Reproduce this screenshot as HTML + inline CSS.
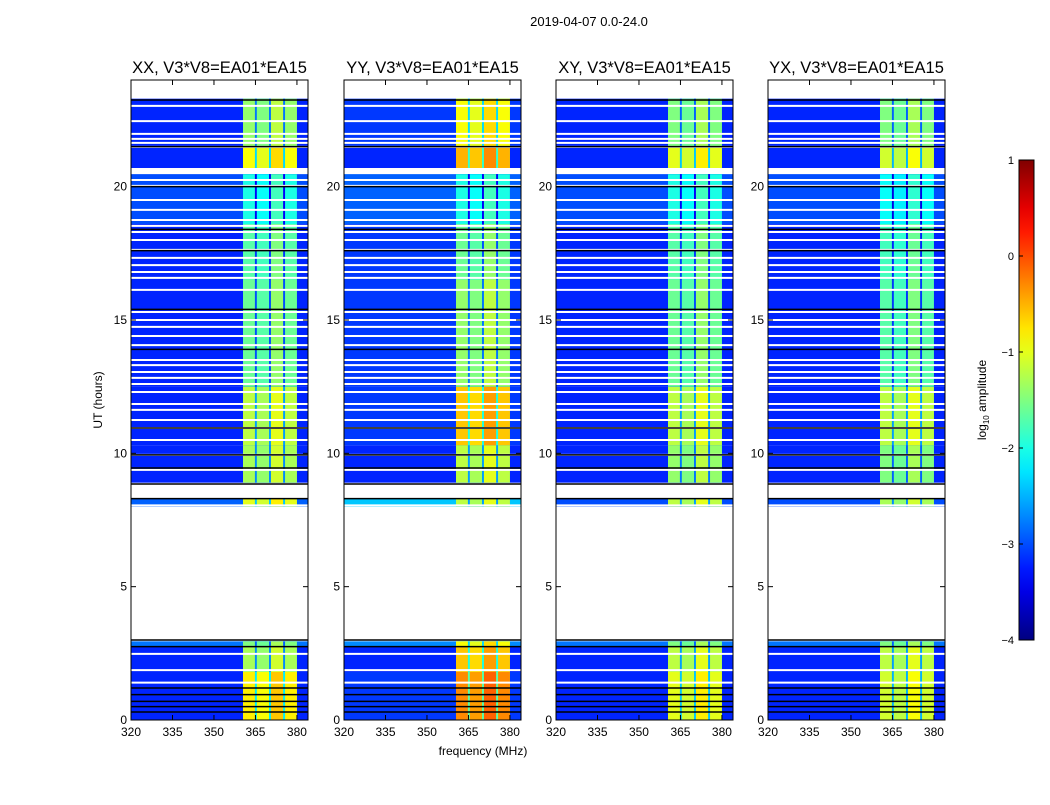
<!DOCTYPE html>
<html><head><meta charset="utf-8"><style>
body{margin:0;background:#fff;}
svg text{font-family:"Liberation Sans",sans-serif;}
</style></head><body>
<svg id="fig" width="1050" height="800" xmlns="http://www.w3.org/2000/svg">
<text x="589" y="26" font-size="13" text-anchor="middle">2019-04-07 0.0-24.0</text>
</svg>
<script>
// ---- data ----
const panelTitles = ["XX, V3*V8=EA01*EA15","YY, V3*V8=EA01*EA15","XY, V3*V8=EA01*EA15","YX, V3*V8=EA01*EA15"];
const xTicks = [320,335,350,365,380];
const yTicks = [0,5,10,15,20];
const cbTicks = [1,0,-1,-2,-3,-4];
const blockStart = [0.0,1.8,2.75,8.0,8.9,10.3,12.5,16.5,18.6,20.7,21.5];
const blockEnd   = [1.8,2.75,2.95,8.3,10.3,12.5,16.5,18.6,20.47,21.5,23.3];
const bandXX = [-0.8,-1.3,-1.5,-1.0,-1.3,-1.2,-1.6,-1.7,-2.0,-0.9,-1.4];
const bandYY = [-0.3,-0.6,-0.9,-1.2,-1.2,-0.6,-1.4,-1.6,-2.0,-0.5,-0.9];
const bandXY = [-1.0,-1.2,-1.5,-1.2,-1.4,-1.2,-1.6,-1.7,-2.0,-1.0,-1.5];
const bandYX = [-1.1,-1.2,-1.5,-1.3,-1.5,-1.2,-1.7,-1.8,-2.1,-1.1,-1.5];
const bgXX = [-3.2,-3.2,-2.8,-2.9,-3.2,-3.2,-3.2,-3.2,-3.0,-3.2,-3.2];
const bgYY = [-3.1,-3.2,-2.7,-2.4,-3.2,-3.1,-3.1,-3.1,-2.9,-3.2,-3.1];
const bgXY = [-3.2,-3.2,-2.8,-3.0,-3.2,-3.2,-3.2,-3.2,-3.0,-3.2,-3.2];
const bgYX = [-3.2,-3.2,-2.8,-3.0,-3.2,-3.2,-3.2,-3.2,-3.0,-3.2,-3.2];
const subbandStart = [360.5,365.5,370.6,375.7];
const subbandEnd   = [364.8,369.9,375.0,380.0];
const subbandOffset = [0.0,-0.1,0.2,0.0];
const whiteLines = [23.03,22.46,21.98,21.79,21.64,21.49,20.25,20.03,19.5,19.13,18.75,18.53,18.3,18.0,17.63,17.33,17.06,16.8,16.58,16.13,15.3,15.0,14.74,14.4,14.06,13.5,13.31,13.05,12.83,12.6,12.3,11.85,11.63,11.25,10.95,10.5,9.94,9.38,8.05,2.48,1.87,1.4];
const blackLines = [23.25,21.5,20.0,18.4,17.6,15.4,13.9,10.95,9.94,9.45,8.85,8.3,3.0,2.75,1.2,0.95,0.7,0.5,0.3];
// ---- layout ----
const panelX=[131,344,556,768], PW=177, PT=80, PB=720;
const fMin=320,fMax=384,tMin=0,tMax=24;
const NS="http://www.w3.org/2000/svg";
const svg=document.getElementById('fig');
function jet(v){let x=Math.max(0,Math.min(1,(v+4)/5));
 const c=t=>Math.round(255*Math.max(0,Math.min(1,1.5-Math.abs(t))));
 return `rgb(${c(4*x-3)},${c(4*x-2)},${c(4*x-1)})`;}
function mk(tag,attrs,parent){const e=document.createElementNS(NS,tag);for(const k in attrs)e.setAttribute(k,attrs[k]);(parent||svg).appendChild(e);return e;}
const bands=[bandXX,bandYY,bandXY,bandYX], bgs=[bgXX,bgYY,bgXY,bgYX];
panelX.forEach((px,p)=>{
 const X=f=>px+(f-fMin)/(fMax-fMin)*PW;
 const Y=t=>PB-(t-tMin)/(tMax-tMin)*(PB-PT);
 const g=mk('g',{});
 
 
 for(let b=0;b<blockStart.length;b++){
  const y0=Y(blockEnd[b]),h=Y(blockStart[b])-y0;
  const r=mk('rect',{x:X(fMin),y:y0,width:X(fMax)-X(fMin),height:h,fill:jet(bgs[p][b])},g);
  
  
  const sep=mk('rect',{x:X(subbandStart[0]),y:y0,width:X(subbandEnd[3])-X(subbandStart[0]),height:h,fill:jet(bands[p][b]-1.4)},g);
  
  
  for(let s=0;s<subbandStart.length;s++){
   const c=mk('rect',{x:X(subbandStart[s]),y:y0,width:X(subbandEnd[s])-X(subbandStart[s]),height:h,fill:jet(bands[p][b]+subbandOffset[s])},g);
   
   
  }
 }
 whiteLines.forEach(t=>{const l=mk('line',{x1:px,x2:px+PW,y1:Y(t),y2:Y(t),stroke:'#fff','stroke-width':2},g);
  
  });
 blackLines.forEach(t=>{const l=mk('line',{x1:px,x2:px+PW,y1:Y(t),y2:Y(t),stroke:'#000','stroke-width':1.5},g);
  
  });
 const fr=mk('rect',{x:px,y:PT,width:PW,height:PB-PT,fill:'none',stroke:'#000','stroke-width':1},g);
 
 
 const tt=mk('text',{x:px+PW/2,y:73,'font-size':16.5,'text-anchor':'middle'},g);tt.textContent=panelTitles[p];
 
 
 xTicks.forEach(f=>{const x=X(f);
  mk('line',{x1:x,x2:x,y1:PB,y2:PB-5,stroke:'#000'},g);mk('line',{x1:x,x2:x,y1:PT,y2:PT+5,stroke:'#000'},g);
  const t=mk('text',{x:x,y:PB+16,'font-size':12,'text-anchor':'middle'},g);t.textContent=f;
  
  });
 yTicks.forEach(v=>{const y=Y(v);
  mk('line',{x1:px,x2:px+5,y1:y,y2:y,stroke:'#000'},g);mk('line',{x1:px+PW,x2:px+PW-5,y1:y,y2:y,stroke:'#000'},g);
  const t=mk('text',{x:px-4,y:y+4,'font-size':12,'text-anchor':'end'},g);t.textContent=v;
  
  });
});
const xl=mk('text',{x:483,y:755,'font-size':12,'text-anchor':'middle'});xl.textContent='frequency (MHz)';


const yl=mk('text',{x:102,y:400,'font-size':12,'text-anchor':'middle',transform:'rotate(-90 102 400)'});yl.textContent='UT (hours)';


// colorbar
const cbX=1019,cbW=15,cbT=160,cbB=640;
const defs=mk('defs',{});const lg=mk('linearGradient',{id:'cbg',x1:0,y1:1,x2:0,y2:0},defs);
for(let i=0;i<=20;i++){mk('stop',{offset:i/20,'stop-color':jet(-4+5*i/20)},lg);}
const cb=mk('rect',{x:cbX,y:cbT,width:cbW,height:cbB-cbT,fill:'url(#cbg)',stroke:'#000'});


cbTicks.forEach(v=>{const y=cbB-(v+4)/5*(cbB-cbT);
 mk('line',{x1:cbX,x2:cbX+4,y1:y,y2:y,stroke:'#000'});
 const t=mk('text',{x:cbX-5,y:y+4,'font-size':11,'text-anchor':'end'});t.textContent=(v<0?'\u2212'+(-v):v);
 
 });
const cl=mk('text',{x:986,y:400,'font-size':12,'text-anchor':'middle',transform:'rotate(-90 986 400)'});
cl.innerHTML='log<tspan font-size="8" dy="3">10</tspan><tspan dy="-3"> amplitude</tspan>';


</script>
</body></html>
